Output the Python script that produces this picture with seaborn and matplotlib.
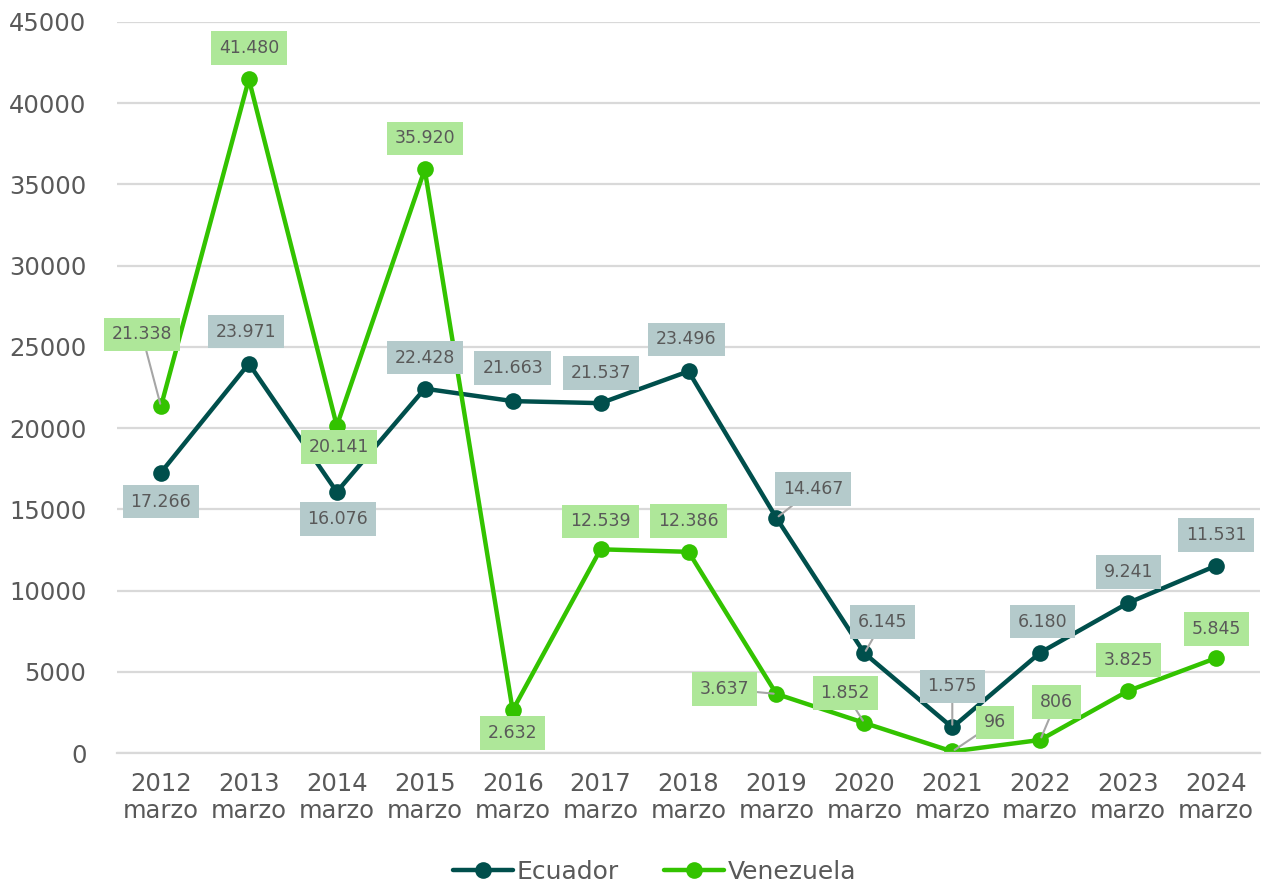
import pandas as pd
import matplotlib.pyplot as plt
import seaborn as sns

sns.set_theme(style="white")
plt.rcParams['font.family'] = ['DejaVu Sans']

years = ["2012", "2013", "2014", "2015", "2016", "2017", "2018",
         "2019", "2020", "2021", "2022", "2023", "2024"]
ecuador = [17266, 23971, 16076, 22428, 21663, 21537, 23496,
           14467, 6145, 1575, 6180, 9241, 11531]
venezuela = [21338, 41480, 20141, 35920, 2632, 12539, 12386,
             3637, 1852, 96, 806, 3825, 5845]

# label offsets in pixels (dx, dy), and whether a leader line is drawn
ecu_off = [(0, -29), (-3, 32), (1, -27), (0, 31), (0, 33), (0, 30), (-2, 32),
           (37, 29), (18, 31), (0, 41), (2, 31), (0, 31), (0, 31)]
ecu_lead = [False, False, False, False, False, False, False,
            True, True, True, False, False, False]
ven_off = [(-19, 72), (0, 31), (2, -21), (0, 31), (0, -23), (0, 28), (0, 31),
           (-52, 5), (-19, 30), (43, 29), (16, 38), (0, 31), (0, 29)]
ven_lead = [True, False, False, False, False, False, False,
            True, True, True, True, False, False]

c_ecu = "#004F4C"
c_ven = "#33C300"
box_ecu = "#B4CACB"
box_ven = "#AEE799"
txt = "#595959"

df = pd.DataFrame({
    "idx": list(range(len(years))) * 2,
    "valor": ecuador + venezuela,
    "pais": ["Ecuador"] * len(years) + ["Venezuela"] * len(years),
})

fig = plt.figure(figsize=(12.66, 8.90), dpi=100)
ax = fig.add_axes([0.0924, 0.1539, 0.9029, 0.8214])

sns.lineplot(data=df, x="idx", y="valor", hue="pais", palette=[c_ecu, c_ven],
             marker="o", markersize=12, markeredgewidth=0, linewidth=3.2, ax=ax)

ax.set_xlim(-0.5, len(years) - 0.5)
ax.set_ylim(0, 45000)
ax.set_yticks(range(0, 45001, 5000))
ax.set_yticklabels([str(v) for v in range(0, 45001, 5000)], color=txt, fontsize=17.5)
ax.yaxis.grid(True, color="#D9D9D9", linewidth=1.6)
ax.set_axisbelow(True)
ax.set_xticks(range(len(years)))
ax.set_xticklabels([y + "\nmarzo" for y in years], color=txt, fontsize=17.5, linespacing=1.15)
ax.set_xticks([i - 0.5 for i in range(len(years) + 1)], minor=True)
ax.tick_params(axis="x", which="major", length=0, pad=14)
ax.tick_params(axis="x", which="minor", length=9, color="#D9D9D9", width=1.6)
ax.tick_params(axis="y", length=0, pad=22)
for s in ["top", "right", "left"]:
    ax.spines[s].set_visible(False)
ax.spines["bottom"].set_color("#D9D9D9")
ax.spines["bottom"].set_linewidth(1.6)
ax.set_xlabel("")
ax.set_ylabel("")


def fmt(v):
    return f"{v:,}".replace(",", ".")


def label(vals, offs, leads, box):
    for i, v in enumerate(vals):
        dx, dy = offs[i]
        ap = dict(arrowstyle="-", color="#A6A6A6", lw=1.5, shrinkA=0, shrinkB=2) if leads[i] else None
        ax.annotate(fmt(v), (i, v), xytext=(dx, dy), textcoords="offset pixels",
                    ha="center", va="center", fontsize=12.5, color=txt,
                    bbox=dict(boxstyle="square,pad=0.45", fc=box, ec="none"),
                    arrowprops=ap, zorder=5)


label(ecuador, ecu_off, ecu_lead, box_ecu)
label(venezuela, ven_off, ven_lead, box_ven)

h, l = ax.get_legend_handles_labels()
ax.legend(h, l, loc="center", bbox_to_anchor=(0.47, -0.163), ncol=2, frameon=False,
          fontsize=18, labelcolor=txt, handlelength=2.4, handletextpad=0.15, columnspacing=1.8,
          borderpad=0.2)

fig.savefig("out.png", dpi=100)
